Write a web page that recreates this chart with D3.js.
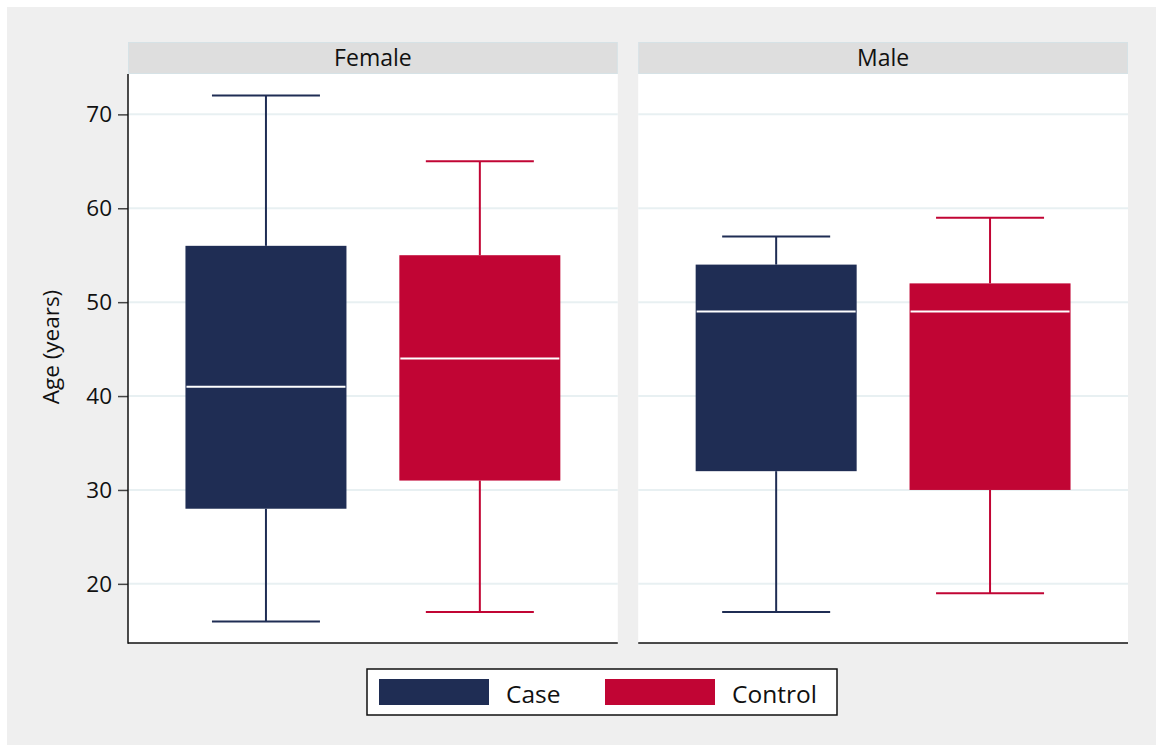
<!DOCTYPE html>
<html>
<head>
<meta charset="utf-8">
<script src="https://cdn.jsdelivr.net/npm/d3@7"></script>
<style>
  html, body { margin: 0; padding: 0; background: #ffffff; }
  svg { display: block; font-family: "Open Sans", "Noto Sans", sans-serif; }
</style>
</head>
<body>
<svg id="chart" width="1156" height="745"></svg>
<script>
// Age distribution by sex and study group
const panels = ["Female", "Male"];
const groups = ["Case", "Control"];
// five-number summaries: [min, q1, median, q3, max]
const femaleStats = [[16, 28, 41, 56, 72], [17, 31, 44, 55, 65]];
const maleStats = [[17, 32, 49, 54, 57], [19, 30, 49, 52, 59]];
const yTicks = [20, 30, 40, 50, 60, 70];
const groupColors = ["#1f2d54", "#c10534"];

const statsByPanel = { Female: femaleStats, Male: maleStats };

const svg = d3.select("#chart");

// outer background
svg.append("rect").attr("x", 7).attr("y", 7).attr("width", 1149).attr("height", 738)
  .attr("fill", "#efefef");

const plotTop = 74, plotBottom = 643;
const y = d3.scaleLinear().domain([13.7, 74.3]).range([plotBottom, plotTop]);

const panelX = d3.scaleBand().domain(panels).range([128, 1128]).paddingInner(20 / 500);
const pw = panelX.bandwidth();
const gx = d3.scalePoint().domain(groups).range([0, pw]).padding(0.645);
const boxW = 161, capW = 108;

panels.forEach((p) => {
  const x0 = panelX(p);
  const g = svg.append("g").attr("transform", `translate(${x0},0)`);
  // plot area
  g.append("rect").attr("x", 0).attr("y", plotTop).attr("width", pw).attr("height", plotBottom - plotTop)
    .attr("fill", "#ffffff");
  // strip
  g.append("rect").attr("x", 0.5).attr("y", 42.5).attr("width", pw - 1).attr("height", 31)
    .attr("fill", "#dedede").attr("stroke", "#d6e2e6").attr("stroke-width", 1);
  g.append("text").attr("x", pw / 2).attr("y", 57).attr("text-anchor", "middle")
    .attr("dominant-baseline", "central").attr("font-size", 23).attr("fill", "#111")
    .text(p);
  // gridlines
  g.selectAll("line.grid").data(yTicks).join("line").attr("class", "grid")
    .attr("x1", 0).attr("x2", pw)
    .attr("y1", d => y(d)).attr("y2", d => y(d))
    .attr("stroke", "#e8f0f2").attr("stroke-width", 2);

  // boxes
  statsByPanel[p].forEach((s, gi) => {
    const cx = gx(groups[gi]);
    const col = groupColors[gi];
    const bg = g.append("g");
    bg.append("line").attr("x1", cx).attr("x2", cx).attr("y1", y(s[0])).attr("y2", y(s[1]))
      .attr("stroke", col).attr("stroke-width", 2);
    bg.append("line").attr("x1", cx).attr("x2", cx).attr("y1", y(s[3])).attr("y2", y(s[4]))
      .attr("stroke", col).attr("stroke-width", 2);
    [s[0], s[4]].forEach(v => {
      bg.append("line").attr("x1", cx - capW / 2).attr("x2", cx + capW / 2)
        .attr("y1", y(v)).attr("y2", y(v)).attr("stroke", col).attr("stroke-width", 2);
    });
    bg.append("rect").attr("x", cx - boxW / 2).attr("y", y(s[3]))
      .attr("width", boxW).attr("height", y(s[1]) - y(s[3])).attr("fill", col);
    bg.append("line").attr("x1", cx - boxW / 2 + 1).attr("x2", cx + boxW / 2 - 1)
      .attr("y1", y(s[2])).attr("y2", y(s[2])).attr("stroke", "#ffffff").attr("stroke-width", 2);
  });

  // bottom axis line
  g.append("line").attr("x1", 0).attr("x2", pw).attr("y1", plotBottom).attr("y2", plotBottom)
    .attr("stroke", "#111").attr("stroke-width", 1.5);
});

// y axis on the first panel
const yAxis = d3.axisLeft(y).tickValues(yTicks).tickSize(10).tickPadding(6);
const ya = svg.append("g").attr("transform", `translate(${panelX(panels[0])},0)`).call(yAxis);
ya.select(".domain").remove();
ya.selectAll(".tick line").attr("stroke", "#444").attr("stroke-width", 1.5);
ya.selectAll(".tick text").attr("font-size", 22.5).attr("fill", "#111")
  .attr("font-family", "\"Open Sans\", \"Noto Sans\", sans-serif");
svg.append("line").attr("x1", 128).attr("x2", 128).attr("y1", plotTop).attr("y2", plotBottom + 0.75)
  .attr("stroke", "#111").attr("stroke-width", 1.5);

svg.append("text").attr("transform", "translate(50,347) rotate(-90)")
  .attr("text-anchor", "middle").attr("dominant-baseline", "central")
  .attr("font-size", 22.5).attr("fill", "#111").text("Age (years)");

// legend
const lg = svg.append("g");
lg.append("rect").attr("x", 367).attr("y", 669).attr("width", 470).attr("height", 46)
  .attr("fill", "#ffffff").attr("stroke", "#111").attr("stroke-width", 1.5);
const legX = d3.scaleOrdinal().domain(groups).range([379, 605]);
groups.forEach((gname, i) => {
  lg.append("rect").attr("x", legX(gname)).attr("y", 679).attr("width", 110).attr("height", 26)
    .attr("fill", groupColors[i]);
  lg.append("text").attr("x", legX(gname) + 127).attr("y", 693).attr("dominant-baseline", "central")
    .attr("font-size", 24.5).attr("fill", "#111").text(gname);
});
</script>
</body>
</html>
